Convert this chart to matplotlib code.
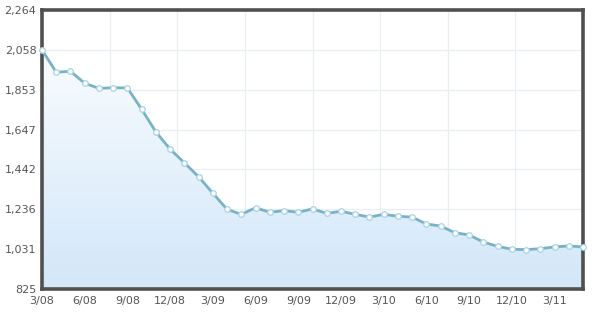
import numpy as np
import matplotlib
matplotlib.use("Agg")
import matplotlib.pyplot as plt
from matplotlib.colors import LinearSegmentedColormap

values = [2058, 1943, 1948, 1886, 1860, 1863, 1862, 1752, 1635, 1546,
          1476, 1404, 1319, 1236, 1210, 1244, 1221, 1229, 1221, 1238,
          1215, 1226, 1210, 1196, 1210, 1200, 1196, 1160, 1150, 1115,
          1104, 1067, 1045, 1030, 1028, 1033, 1042, 1047, 1042]
x_labels = ["3/08", "6/08", "9/08", "12/08", "3/09", "6/09", "9/09",
            "12/09", "3/10", "6/10", "9/10", "12/10", "3/11"]
y_labels = ["825", "1,031", "1,236", "1,442", "1,647", "1,853", "2,058", "2,264"]
y_min, y_max = 825, 2264

x = np.arange(len(values))
xmax = len(values) - 1

fig = plt.figure(figsize=(6, 3.2), dpi=100)
ax = fig.add_axes([42/600, (320-289)/320, (583-42)/600, (289-10)/320])
ax.set_xlim(0, xmax)
ax.set_ylim(y_min, y_max)

# grid
for gx in np.linspace(0, xmax, 9)[1:-1]:
    ax.axvline(gx, color="#e8eff3", lw=0.9, zorder=0.5)
yt = np.linspace(y_min, y_max, len(y_labels))
for gy in yt[1:-1]:
    ax.axhline(gy, color="#e8eff3", lw=0.9, zorder=0.5)

# gradient fill: white at top, light blue at bottom
cmap = LinearSegmentedColormap.from_list("g", ["#ffffff", "#d2e7f9"])
grad = np.linspace(0, 1, 256).reshape(-1, 1)
im = ax.imshow(grad, extent=[0, xmax, y_min, y_max], aspect="auto",
               cmap=cmap, zorder=1, origin="upper")
poly = ax.fill_between(x, values, y_min, color="none", lw=0)
path = poly.get_paths()[0]
im.set_clip_path(path, transform=ax.transData)
ax.set_xlim(0, xmax)
ax.set_ylim(y_min, y_max)

ax.plot(x, values, color="#7ab2c5", lw=2.0, zorder=3,
        marker="o", ms=4.0, mfc="white", mec="#a8d2e6", mew=0.9,
        clip_on=False)

ax.set_xticks(np.arange(0, xmax, 3))
ax.set_xticklabels(x_labels)
ax.set_yticks(yt)
ax.set_yticklabels(y_labels)
ax.tick_params(length=0, labelsize=8, labelcolor="#555555")
ax.tick_params(axis="x", pad=5)
ax.tick_params(axis="y", pad=4)
for s in ax.spines.values():
    s.set_color("#505050")
    s.set_linewidth(2.6)

fig.savefig("out.png", dpi=100)
